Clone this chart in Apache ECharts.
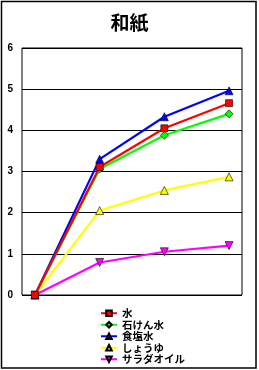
<!DOCTYPE html>
<html><head><meta charset="utf-8">
<style>html,body{margin:0;padding:0;background:#fff}#c{width:259px;height:370px}</style>
<script src="https://cdn.jsdelivr.net/npm/echarts@6/dist/echarts.min.js"></script>
</head><body><div id="c"></div>
<script>
var categories = [0, 1, 2, 3];
var yTicks = [0, 1, 2, 3, 4, 5, 6];
var names = ['水', '石けん水', '食塩水', 'しょうゆ', 'サラダオイル'];
var mizu = [0, 3.11, 4.05, 4.66];
var sekken = [0, 3.06, 3.88, 4.40];
var shokuen = [0, 3.30, 4.33, 4.96];
var shoyu = [0, 2.05, 2.54, 2.87];
var salad = [0, 0.79, 1.05, 1.20];

var colors = ['#ff0000', '#00ff00', '#0000ff', '#ffff00', '#ff00ff'];
var symbols = ['rect', 'diamond', 'triangle', 'triangle', 'path://M0,0 L10,0 L5,10 Z'];
var sizes = [7, 8, 8, 8, 8];
var values = [mizu, sekken, shokuen, shoyu, salad];

function pairs(arr){ return arr.map(function(v,i){ return [categories[i], v]; }); }

var chart = echarts.init(document.getElementById('c'));
var series = names.map(function(n, i){
  return {
    name: n, type: 'line', data: pairs(values[i]),
    symbol: symbols[i], symbolSize: sizes[i],
    lineStyle: {color: colors[i], width: 2.2},
    itemStyle: {color: colors[i], borderColor: '#000', borderWidth: 0.6},
    animation: false, z: 10 - i
  };
});
chart.setOption({
  animation: false,
  title: {text: '和紙', left: 'center', top: 8,
    textStyle: {fontFamily: 'Noto Sans CJK JP', fontSize: 19, fontWeight: 'bold', color: '#000'}},
  grid: {left: 22, top: 48, width: 220, height: 247, show: true, borderColor: '#000', borderWidth: 1},
  xAxis: {type: 'value', min: -0.2, max: 3.2, axisLabel: {show: false}, axisTick: {show: false},
    splitLine: {show: false}, axisLine: {show: false}},
  yAxis: {type: 'value', min: yTicks[0], max: yTicks[yTicks.length-1], interval: 1,
    axisLine: {show: false}, axisTick: {show: false},
    splitLine: {show: true, lineStyle: {color: '#000', width: 1}},
    axisLabel: {color: '#000', fontSize: 10, fontWeight: 'bold', fontFamily: 'Liberation Sans', margin: 9}},
  legend: {orient: 'vertical', left: 95, top: 303, itemWidth: 16, itemHeight: 7, itemGap: 1,
    textStyle: {fontFamily: 'Noto Sans CJK JP', fontSize: 10.5, fontWeight: 'bold', color: '#000'},
    data: names},
  graphic: [{type: 'rect', shape: {x: 1.5, y: 1.5, width: 254.5, height: 366.5},
    style: {fill: null, stroke: '#000', lineWidth: 1.5}, silent: true}],
  series: series
});
</script></body></html>
